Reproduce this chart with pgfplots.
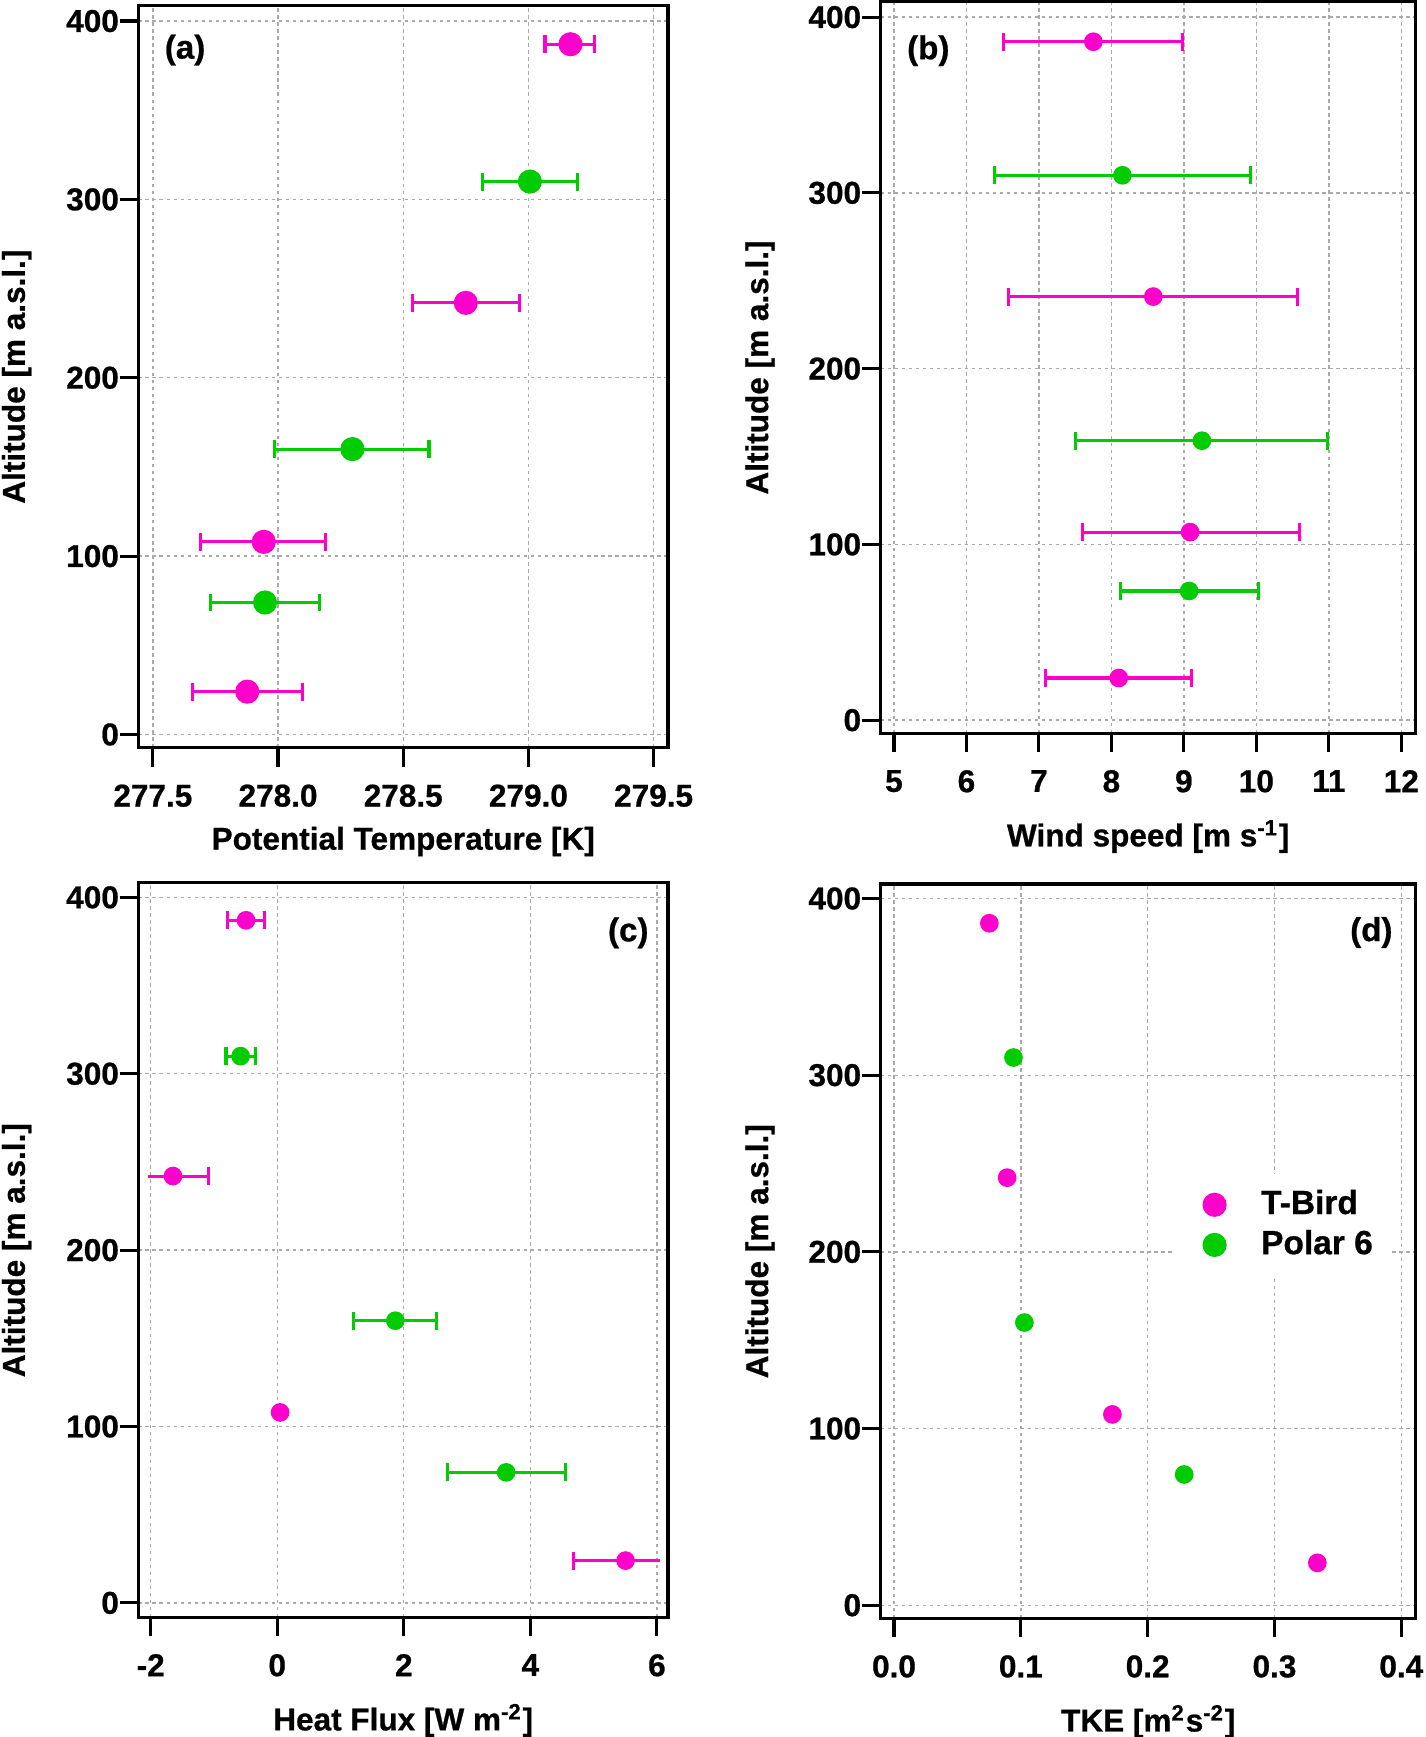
\documentclass[border=0pt]{standalone}
\usepackage{pgfplots}
\pgfplotsset{compat=1.18}
\usepackage{fontspec}
\setmainfont{Liberation Sans}[BoldFeatures={FakeBold=0.7}]
\definecolor{tbird}{RGB}{255,0,204}
\definecolor{polar}{RGB}{0,204,0}
\definecolor{gridc}{RGB}{170,170,170}
\newcommand{\tf}{\fontsize{8.1}{9.7}\selectfont\bfseries}
\pgfplotsset{
  panel/.style={
    scale only axis,
    anchor=south west,
    axis line style={line width=0.8pt},
    tick pos=left,
    tick align=outside,
    major tick length=1.7mm,
    every tick/.style={black, line width=0.8pt},
    grid=major,
    major grid style={gridc, line width=0.35pt, dash pattern=on 0.9pt off 0.9pt},
    font=\tf,
    ytick={0,100,200,300,400},
    yticklabels={0,100,200,300,400},
    ylabel={Altitude [m a.s.l.]},
    every tick label/.append style={font=\tf},
    yticklabel style={anchor=east, inner sep=0pt},
    xticklabel style={anchor=north, inner sep=0pt, yshift=-1.55mm},
  },
  ebar/.style={
    error bars/x dir=#1, error bars/x explicit,
    error bars/error bar style={line width=0.8pt},
    error bars/error mark options={rotate=90, mark size=2.3pt, line width=0.8pt},
  },
  ebar/.default=both,
  tb/.style={only marks, mark=*, color=tbird, mark size=#1},
  pp/.style={only marks, mark=*, color=polar, mark size=#1},
}
\begin{document}
\begin{tikzpicture}
% ---------------- (a) ----------------
\begin{axis}[panel,
  at={(12.5mm,-67.5mm)}, width=47.8mm, height=67mm,
  xmin=277.4425, xmax=279.5575, ymin=-7.45, ymax=408.7,
  xtick={277.5,278,278.5,279,279.5},
  xticklabels={277.5,278.0,278.5,279.0,279.5},
  xlabel={Potential Temperature [K]},
  xlabel style={at={(axis description cs:0.5,0)}, anchor=base, yshift=-9.2mm},
  ylabel style={at={(axis description cs:0,0.5)}, anchor=center, yshift=11mm},
]
\addplot[tb=2.9pt, ebar] coordinates {
 (279.168,387) -= (0.102,0) += (0.096,0)
 (278.750,242) -= (0.212,0) += (0.215,0)
 (277.943,108) -= (0.251,0) += (0.248,0)
 (277.877,24)  -= (0.217,0) += (0.222,0)
};
\addplot[pp=2.9pt, ebar] coordinates {
 (279.006,310) -= (0.188,0) += (0.189,0)
 (278.297,160) -= (0.311,0) += (0.306,0)
 (277.948,74)  -= (0.218,0) += (0.218,0)
};
\node[font=\fontsize{8.5}{10}\selectfont\bfseries] at (rel axis cs:0.088,0.940) {(a)};
\end{axis}
% ---------------- (b) ----------------
\begin{axis}[panel,
  at={(79.5mm,-66.2mm)}, width=48.3mm, height=66.05mm,
  xmin=4.817, xmax=12.199, ymin=-7.5, ymax=408.8,
  xtick={5,6,7,8,9,10,11,12},
  xticklabels={5,6,7,8,9,10,11,12},
  xlabel={Wind speed [m s\textsuperscript{-1}]},
  xlabel style={at={(axis description cs:0.5,0)}, anchor=base, yshift=-10.2mm},
  ylabel style={at={(axis description cs:0,0.5)}, anchor=center, yshift=10.9mm},
]
\addplot[tb=2.2pt, ebar] coordinates {
 (7.751,386) -= (1.234,0) += (1.235,0)
 (8.578,241) -= (1.992,0) += (1.993,0)
 (9.086,107) -= (1.479,0) += (1.504,0)
 (8.102,24)  -= (1.009,0) += (1.003,0)
};
\addplot[pp=2.2pt, ebar] coordinates {
 (8.152,310)  -= (1.767,0) += (1.767,0)
 (9.249,159)  -= (1.742,0) += (1.730,0)
 (9.073,73.5) -= (0.946,0) += (0.953,0)
};
\node[font=\fontsize{8.5}{10}\selectfont\bfseries] at (rel axis cs:0.089,0.933) {(b)};
\end{axis}
% ---------------- (c) ----------------
\begin{axis}[panel,
  at={(12.5mm,-146.0mm)}, width=47.8mm, height=66.3mm,
  xmin=-2.193, xmax=6.175, ymin=-8.2, ymax=408.2,
  xtick={-2,0,2,4,6},
  xticklabels={-2,0,2,4,6},
  xlabel={Heat Flux [W m\textsuperscript{-2}]},
  xlabel style={at={(axis description cs:0.5,0)}, anchor=base, yshift=-10.2mm},
  ylabel style={at={(axis description cs:0,0.5)}, anchor=center, yshift=11mm},
]
\addplot[tbird, line width=0.8pt, forget plot] coordinates {(-2.05,242) (-1.648,242)};
\addplot[tbird, line width=0.8pt, forget plot] coordinates {(5.505,24) (6.05,24)};
\addplot[tb=2.2pt, ebar] coordinates {
 (-0.493,387) -= (0.287,0) += (0.294,0)
};
\addplot[tb=2.2pt, ebar=plus] coordinates {
 (-1.648,242) += (0.559,0)
};
\addplot[tb=2.2pt, ebar=minus] coordinates {
 (5.505,24) -= (0.818,0)
};
\addplot[tb=2.2pt] coordinates {(0.045,108)};
\addplot[pp=2.2pt, ebar] coordinates {
 (-0.579,310) -= (0.230,0) += (0.229,0)
 (1.867,160)  -= (0.660,0) += (0.653,0)
 (3.618,74)   -= (0.926,0) += (0.940,0)
};
\node[font=\fontsize{8.5}{10}\selectfont\bfseries] at (rel axis cs:0.925,0.932) {(c)};
\end{axis}
% ---------------- (d) ----------------
\begin{axis}[panel,
  at={(79.5mm,-146.1mm)}, width=48.3mm, height=66.3mm,
  xmin=-0.0105, xmax=0.4114, ymin=-7.5, ymax=408.2,
  xtick={0,0.1,0.2,0.3,0.4},
  xticklabels={0.0,0.1,0.2,0.3,0.4},
  xlabel={TKE [m\textsuperscript{2}s\textsuperscript{-2}]},
  xlabel style={at={(axis description cs:0.5,0)}, anchor=base, yshift=-10.2mm},
  ylabel style={at={(axis description cs:0,0.5)}, anchor=center, yshift=10.9mm},
  legend style={at={(rel axis cs:0.549,0.606)}, anchor=north west, draw=none, fill=white,
    font=\fontsize{8.6}{10}\selectfont\bfseries, row sep=-0.5mm},
  legend cell align=left,
  legend image code/.code={\path[draw=none,fill=none] (0cm,-0.1cm) rectangle (0.6cm,0.1cm); \draw[#1] plot coordinates {(0.25cm,0cm)};},
]
\addlegendimage{only marks, mark=*, color=tbird, mark size=2.9pt}
\addlegendentry{T-Bird}
\addlegendimage{only marks, mark=*, color=polar, mark size=2.9pt}
\addlegendentry{Polar 6}
\addplot[tb=2.2pt, forget plot] coordinates {
 (0.0752,386) (0.0892,242) (0.1722,108) (0.3338,24)
};
\addplot[pp=2.2pt, forget plot] coordinates {
 (0.0942,310) (0.1028,160) (0.2288,74)
};
\node[font=\fontsize{8.5}{10}\selectfont\bfseries] at (rel axis cs:0.917,0.934) {(d)};
\end{axis}
\pgfresetboundingbox
\path (0,0) rectangle (128.7mm,-156.8mm);
\end{tikzpicture}
\end{document}
